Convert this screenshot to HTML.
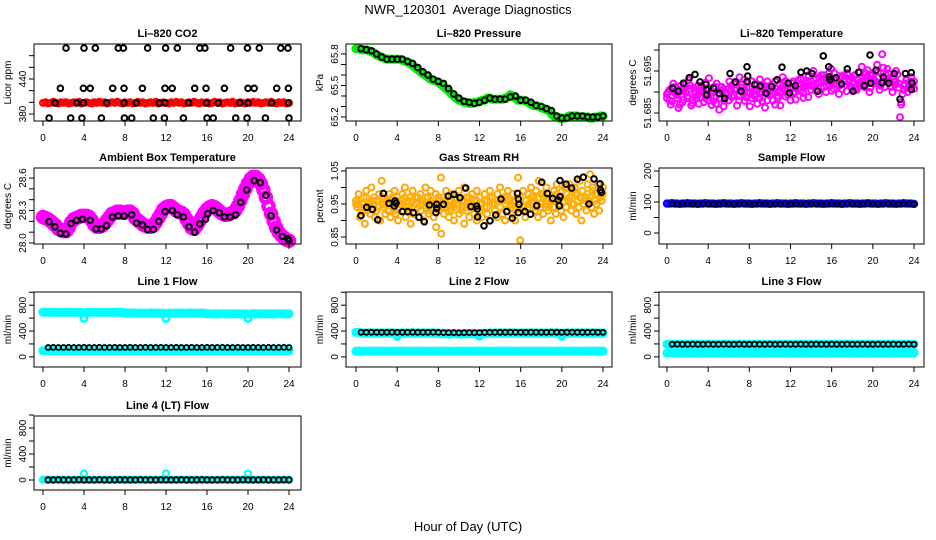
<!DOCTYPE html>
<html><head><meta charset="utf-8"><title>NWR_120301 Average Diagnostics</title>
<style>html,body{margin:0;padding:0;background:#fff}svg{display:block}text{font-family:"Liberation Sans",Arial,sans-serif}</style>
</head><body>
<svg id="chart" width="936" height="540" viewBox="0 0 936 540" xmlns="http://www.w3.org/2000/svg">
<text x="468" y="14" text-anchor="middle" font-size="13">NWR_120301&#160; Average Diagnostics</text>
<text x="468" y="531" text-anchor="middle" font-size="13">Hour of Day (UTC)</text>
</svg>
<script>
const hourTicks=[0,4,8,12,16,20,24];
// Li-820 CO2
const co2Red=[399,400,398,399,401,399,398,400,399,400,398,399,400,399,401,398,399,400,399,398,400,399,401,399,400,398,399,400,399,401,399,398,400,399,400,398,399,401,399,400,398,399,400,399,401,398,399,400,399,398,400,399,401,399,400,398,399,400,399,401,399,398,400,399,400,398,399,401,399,400,398,399,400,399,401,398,399,400,399,398,400,399,401,399,400,398,399,400,399,401,399,398,400,399,400,398,399];
const co2BlackHours=[2.24,4.0,5.1,7.35,7.84,10.2,11.96,13.1,15.3,15.8,18.3,19.95,21.1,23.2,23.9,1.7,3.94,4.6,6.8,7.9,9.7,11.9,12.6,14.8,15.9,17.7,20.0,20.6,22.8,23.94,1.17,3.3,3.94,6.2,7.9,9.1,11.35,11.9,14.2,15.96,17.1,19.2,20.0,22.3,23.94,0.6,2.7,3.8,5.7,7.94,8.65,10.76,11.84,13.7,16.0,16.6,18.8,19.9,21.7,24.0];
const co2BlackVals=[493,493,493,493,493,493,493,493,493,493,493,493,493,493,493,424,424,424,424,424,424,424,424,424,424,424,424,424,424,424,399,399,399,399,399,399,399,399,399,399,399,399,399,399,399,373,373,373,373,373,373,373,373,373,373,373,373,373,373,373];
// Li-820 Pressure
const presGreen=[65.85,65.85,65.84,65.84,65.84,65.83,65.82,65.81,65.79,65.78,65.77,65.76,65.75,65.75,65.75,65.75,65.75,65.75,65.74,65.73,65.72,65.71,65.69,65.67,65.65,65.63,65.61,65.60,65.58,65.56,65.55,65.54,65.53,65.51,65.49,65.47,65.45,65.42,65.40,65.38,65.36,65.35,65.34,65.34,65.33,65.33,65.34,65.34,65.35,65.36,65.36,65.38,65.38,65.37,65.37,65.37,65.37,65.37,65.38,65.39,65.41,65.40,65.38,65.36,65.36,65.36,65.35,65.34,65.32,65.31,65.31,65.30,65.29,65.28,65.27,65.26,65.23,65.21,65.20,65.19,65.19,65.19,65.20,65.21,65.21,65.21,65.21,65.20,65.20,65.20,65.20,65.19,65.19,65.20,65.20,65.21,65.21];
const presBlack=[65.85,65.84,65.83,65.80,65.77,65.75,65.75,65.75,65.75,65.73,65.71,65.67,65.63,65.60,65.56,65.54,65.52,65.47,65.42,65.38,65.35,65.34,65.33,65.34,65.36,65.38,65.37,65.37,65.37,65.39,65.40,65.36,65.36,65.34,65.31,65.30,65.28,65.26,65.21,65.19,65.19,65.21,65.21,65.21,65.20,65.20,65.20,65.21];
// Li-820 Temperature
const tempA=[51.6885,51.6905,51.6878,51.6912,51.6893,51.6870,51.6902,51.6918,51.6885,51.6908,51.6873,51.6896,51.6915,51.6888,51.6905,51.6922,51.6880,51.6899,51.6911,51.6872,51.6895,51.6903,51.6866,51.6890,51.6908,51.6915,51.6893,51.6921,51.6880,51.6910,51.6930,51.6898,51.6912,51.6885,51.6902,51.6919,51.6896,51.6878,51.6905,51.6925,51.6892,51.6911,51.6870,51.6900,51.6918,51.6935,51.6889,51.6906,51.6880,51.6897,51.6915,51.6928,51.6903,51.6886,51.6920,51.6937,51.6905,51.6918,51.6931,51.6895,51.6940,51.6912,51.6925,51.6945,51.6903,51.6930,51.6918,51.6938,51.6907,51.6926,51.6942,51.6915,51.6933,51.6904,51.6929,51.6947,51.6918,51.6935,51.6952,51.6910,51.6940,51.6925,51.6948,51.6915,51.6958,51.6930,51.6945,51.6912,51.6938,51.6950,51.6920,51.6876,51.6905,51.6928,51.6915,51.6935,51.6908];
const tempB=[51.6900,51.6870,51.6920,51.6895,51.6862,51.6915,51.6882,51.6899,51.6928,51.6868,51.6910,51.6884,51.6872,51.6915,51.6876,51.6895,51.6933,51.6869,51.6887,51.6920,51.6858,51.6912,51.6880,51.6897,51.6925,51.6888,51.6906,51.6868,51.6935,51.6899,51.6879,51.6923,51.6866,51.6910,51.6890,51.6872,51.6930,51.6912,51.6863,51.6896,51.6915,51.6880,51.6925,51.6891,51.6868,51.6909,51.6926,51.6893,51.6912,51.6920,51.6882,51.6908,51.6932,51.6898,51.6915,51.6888,51.6926,51.6950,51.6903,51.6922,51.6910,51.6932,51.6900,51.6918,51.6955,51.6908,51.6928,51.6895,51.6920,51.6940,51.6902,51.6925,51.6912,51.6938,51.6905,51.6922,51.6960,51.6912,51.6932,51.6900,51.6945,51.6928,51.6965,51.6905,51.6990,51.6912,51.6955,51.6925,51.6900,51.6918,51.6942,51.6840,51.6895,51.6920,51.6900,51.6925,51.6915];
const tempC=[51.6895,51.6880,51.6910,51.6900,51.6885,51.6905,51.6875,51.6908,51.6890,51.6915,51.6880,51.6902,51.6893,51.6900,51.6910,51.6885,51.6905,51.6890,51.6878,51.6912,51.6895,51.6884,51.6908,51.6898,51.6880,51.6903,51.6920,51.6905,51.6890,51.6918,51.6900,51.6887,51.6910,51.6925,51.6895,51.6905,51.6885,51.6900,51.6915,51.6880,51.6905,51.6895,51.6910,51.6885,51.6900,51.6915,51.6905,51.6920,51.6910,51.6925,51.6900,51.6915,51.6930,51.6910,51.6925,51.6940,51.6915,51.6930,51.6920,51.6935,51.6925,51.6940,51.6915,51.6935,51.6925,51.6945,51.6930,51.6915,51.6935,51.6925,51.6945,51.6930,51.6920,51.6940,51.6930,51.6915,51.6935,51.6945,51.6925,51.6940,51.6930,51.6920,51.6935,51.6945,51.6925,51.6940,51.6930,51.6915,51.6930,51.6925,51.6910,51.6870,51.6915,51.6930,51.6920,51.6910,51.6925];
const tempBlackHours=[0.55,1.1,1.59,2.17,2.72,3.21,3.79,3.85,3.85,4.53,5.08,5.6,6.12,6.64,7.19,7.77,7.77,7.84,8.52,9.07,9.62,10.17,10.69,11.17,11.79,11.89,12.47,13.02,13.57,14.09,14.64,15.19,15.71,15.77,15.84,16.42,16.97,17.52,18.07,18.62,19.17,19.72,19.79,20.31,20.89,21.02,21.54,22.09,22.64,23.16,23.74,23.74,23.81];
const tempBlackVals=[51.6909,51.6902,51.6921,51.6934,51.6942,51.6924,51.6918,51.6905,51.6893,51.6909,51.6897,51.6885,51.6944,51.6924,51.6902,51.6960,51.6925,51.6938,51.6918,51.6914,51.6897,51.6913,51.6929,51.6959,51.6921,51.6898,51.6915,51.6947,51.6950,51.6944,51.6902,51.6986,51.6960,51.6936,51.6929,51.6934,51.6919,51.6955,51.6902,51.6947,51.6915,51.6988,51.6921,51.6952,51.6922,51.6935,51.6921,51.6944,51.6883,51.6944,51.6946,51.6906,51.6922];
// Ambient Box Temperature
const ambMagenta=[28.24,28.23,28.22,28.20,28.18,28.16,28.13,28.12,28.11,28.11,28.14,28.19,28.22,28.23,28.24,28.25,28.25,28.25,28.24,28.21,28.17,28.15,28.15,28.16,28.18,28.21,28.24,28.27,28.28,28.29,28.29,28.28,28.28,28.29,28.29,28.27,28.23,28.21,28.19,28.17,28.16,28.15,28.15,28.16,28.19,28.23,28.27,28.31,28.33,28.34,28.34,28.32,28.30,28.29,28.28,28.26,28.22,28.18,28.14,28.13,28.16,28.20,28.24,28.28,28.31,28.33,28.34,28.33,28.31,28.29,28.27,28.26,28.26,28.27,28.28,28.30,28.34,28.39,28.45,28.50,28.55,28.59,28.61,28.61,28.59,28.55,28.49,28.42,28.34,28.27,28.20,28.14,28.10,28.07,28.05,28.03,28.02];
const ambBlackHours=[0.6,1.17,1.7,2.24,2.73,3.28,3.85,4.6,5.17,5.7,6.2,6.77,7.35,7.9,8.65,9.13,9.7,10.2,10.76,11.3,11.9,12.6,13.1,13.7,14.25,14.8,15.3,15.86,16.06,16.6,17.2,17.7,18.25,18.8,19.3,19.87,20.6,21.2,21.75,22.25,22.8,23.35,23.9,24.0];
const ambBlackVals=[28.197,28.15,28.09,28.083,28.18,28.21,28.22,28.21,28.13,28.13,28.16,28.24,28.25,28.25,28.26,28.185,28.166,28.126,28.126,28.2,28.29,28.30,28.26,28.24,28.15,28.1,28.175,28.22,28.27,28.30,28.28,28.24,28.24,28.26,28.376,28.49,28.575,28.557,28.44,28.25,28.12,28.06,28.04,28.02];
// Gas Stream RH
const rhA=[0.96,0.98,0.94,0.97,0.99,0.95,1.00,0.97,0.96,0.98,1.02,0.97,0.95,0.98,0.96,0.99,0.97,0.95,0.98,1.00,0.96,0.97,0.99,0.95,0.97,0.98,0.96,1.00,0.97,0.99,0.95,0.98,0.96,1.03,0.97,0.99,0.96,0.98,0.95,0.97,0.99,0.96,1.00,0.97,0.95,0.98,0.96,0.99,0.97,0.95,0.98,0.96,0.99,0.97,0.95,0.98,1.00,0.96,0.97,0.99,0.95,0.98,0.96,1.03,0.97,0.99,0.96,0.98,1.00,0.97,0.99,1.02,0.98,0.97,1.00,0.98,0.96,0.99,1.01,0.97,0.99,1.00,0.98,1.01,0.99,1.00,0.98,1.02,0.99,0.97,1.01,1.04,1.00,0.98,1.01,0.99,1.00];
const rhB=[0.94,0.91,0.95,0.89,0.93,0.92,0.96,0.91,0.94,0.90,0.95,0.92,0.93,0.91,0.94,0.92,0.90,0.95,0.93,0.91,0.94,0.89,0.92,0.95,0.91,0.93,0.90,0.94,0.92,0.95,0.91,0.88,0.93,0.86,0.92,0.94,0.91,0.93,0.90,0.95,0.92,0.94,0.89,0.93,0.91,0.94,0.92,0.90,0.93,0.91,0.94,0.92,0.90,0.95,0.93,0.91,0.94,0.92,0.90,0.93,0.95,0.92,0.90,0.94,0.84,0.93,0.91,0.94,0.92,0.95,0.93,0.91,0.94,0.92,0.95,0.93,0.90,0.94,0.92,0.95,0.93,0.91,0.94,0.96,0.93,0.95,0.92,0.94,0.90,0.95,0.93,0.96,0.94,0.92,0.95,0.93,0.96];
const rhC=[0.95,0.96,0.93,0.95,0.97,0.94,0.96,0.95,0.93,0.96,0.97,0.94,0.96,0.95,0.97,0.93,0.96,0.94,0.96,0.97,0.95,0.93,0.96,0.97,0.94,0.96,0.95,0.97,0.93,0.96,0.94,0.95,0.97,0.94,0.96,0.95,0.93,0.96,0.94,0.97,0.95,0.93,0.96,0.94,0.97,0.95,0.94,0.96,0.95,0.93,0.96,0.94,0.97,0.95,0.93,0.96,0.94,0.97,0.95,0.96,0.94,0.96,0.93,0.95,0.97,0.94,0.96,0.95,0.97,0.96,0.94,0.97,0.95,0.98,0.96,0.94,0.97,0.96,0.98,0.95,0.97,0.96,0.98,0.97,0.95,0.98,0.96,0.97,0.99,0.96,0.98,0.97,0.99,0.96,0.98,0.97,0.98];
const rhBlackHours=[0.49,1.04,1.59,2.11,2.66,3.21,3.72,3.79,3.89,4.5,5.02,5.57,6.12,6.64,7.13,7.84,7.84,7.77,8.49,8.97,9.52,10.11,10.66,11.17,11.73,11.79,11.82,12.44,13.02,13.57,14.09,14.64,15.19,15.68,15.77,15.84,15.77,16.42,16.97,17.56,18.04,18.59,19.11,19.66,19.76,19.82,19.82,20.41,20.96,21.51,22.09,22.64,23.13,23.71,23.77,23.84];
const rhBlackVals=[0.915,0.940,0.934,0.902,0.982,0.952,0.944,0.959,0.952,0.927,0.927,0.924,0.910,0.896,0.947,0.949,0.937,0.924,0.949,0.974,0.979,0.969,0.998,0.942,0.944,0.935,0.911,0.884,0.899,0.917,0.965,0.927,0.907,0.982,0.965,0.949,0.924,0.927,0.919,0.945,1.016,0.982,0.967,0.962,0.944,0.972,1.021,1.010,0.998,1.025,1.031,0.950,1.026,1.011,0.992,0.985];
// Sample Flow
const sampleBlue=[95,95,96,95,95,94,95,95,96,95,95,95,94,95,95,96,95,95,95,94,95,95,96,95,95,95,94,95,95,96,95,95,95,94,95,95,96,95,95,95,94,95,95,96,95,95,95,94,95,95,96,95,95,95,94,95,95,96,95,95,95,94,95,95,96,95,95,95,94,95,95,96,95,95,95,94,95,95,96,95,95,95,94,95,95,96,95,95,95,94,95,95,96,95,95,95,94];
const sampleBlack=[94,94,95,94,94,94,95,94,94,94,95,94,94,94,95,94,94,94,95,94,94,94,95,94,94,94,95,94,94,94,95,94,94,94,95,94,94,94,95,94,94,94,95,94,94,94,95,93];
// Line 1 Flow
const line1CyanHigh=[690,690,688,690,691,690,689,690,690,688,690,691,690,689,690,688,595,688,690,689,690,691,688,690,689,690,688,690,691,689,690,688,680,678,676,680,677,675,679,676,678,675,680,677,676,679,675,678,595,676,678,675,679,677,676,678,675,680,677,676,679,675,678,676,668,666,665,667,664,666,668,665,667,664,666,668,665,667,664,666,595,666,668,665,667,664,666,668,665,667,664,666,668,665,667,664,666];
const line1CyanLow=[95,96,95,94,95,96,95,95,94,95,96,95,95,94,95,96,95,95,94,95,96,95,95,94,95,96,95,95,94,95,96,95,95,94,95,96,95,95,94,95,96,95,95,94,95,96,95,95,94,95,96,95,95,94,95,96,95,95,94,95,96,95,95,94,95,96,95,95,94,95,96,95,95,94,95,96,95,95,94,95,96,95,95,94,95,96,95,95,94,95,96,95,95,94,95,96,95];
const line1Black=[145,146,145,145,146,145,145,146,145,145,146,145,145,146,145,145,146,145,145,146,145,145,146,145,145,146,145,145,146,145,145,146,145,145,146,145,145,146,145,145,146,145,145,146,145,145,146,145];
// Line 2 Flow
const line2CyanHigh=[380,378,372,370,368,372,366,370,369,372,368,371,367,372,370,368,320,368,372,366,370,369,372,368,371,367,372,370,368,372,366,370,369,360,355,362,350,358,362,355,360,354,358,362,356,360,355,358,320,362,358,366,370,365,372,368,371,367,372,370,368,372,366,370,369,372,368,371,367,372,370,368,372,366,370,369,372,368,371,367,320,368,372,366,370,369,372,368,371,367,372,370,368,372,366,370,369];
const line2CyanLow=[88,89,88,87,88,89,88,88,87,88,89,88,88,87,88,89,88,88,87,88,89,88,88,87,88,89,88,88,87,88,89,88,88,87,88,89,88,88,87,88,89,88,88,87,88,89,88,88,87,88,89,88,88,87,88,89,88,88,87,88,89,88,88,87,88,89,88,88,87,88,89,88,88,87,88,89,88,88,87,88,89,88,88,87,88,89,88,88,87,88,89,88,88,87,88,89,88];
const line2Black=[380,380,381,380,380,380,381,380,380,380,381,380,380,380,381,378,376,375,374,373,374,375,374,376,377,378,379,380,380,381,380,380,380,381,380,380,380,381,380,380,380,381,380,380,380,381,380,380];
// Line 3 Flow
const line3CyanHigh=[195,194,193,195,194,193,195,194,193,195,194,193,195,194,193,195,194,193,195,194,193,195,194,193,195,194,193,195,194,193,195,194,193,195,194,193,195,194,193,195,194,193,195,194,193,195,194,193,195,194,193,195,194,193,195,194,193,195,194,193,195,194,193,195,194,193,195,194,193,195,194,193,195,194,193,195,194,193,195,194,193,195,194,193,195,194,193,195,194,193,195,194,193,195,194,193,195];
const line3CyanLow=[60,61,60,59,60,61,60,60,59,60,61,60,60,59,60,61,60,60,59,60,61,60,60,59,60,61,60,60,59,60,61,60,60,59,60,61,60,60,59,60,61,60,60,59,60,61,60,60,59,60,61,60,60,59,60,61,60,60,59,60,61,60,60,59,60,61,60,60,59,60,61,60,60,59,60,61,60,60,59,60,61,60,60,59,60,61,60,60,59,60,61,60,60,59,60,61,60];
const line3Black=[195,196,195,195,196,195,195,196,195,195,196,195,195,196,195,195,196,195,195,196,195,195,196,195,195,196,195,195,196,195,195,196,195,195,196,195,195,196,195,195,196,195,195,196,195,195,196,195];
// Line 4 (LT) Flow
const line4Cyan=[5,4,5,5,4,5,5,4,5,5,4,5,5,4,5,5,100,5,5,4,5,5,4,5,5,4,5,5,4,5,5,4,5,5,4,5,5,4,5,5,4,5,5,4,5,5,4,5,100,4,5,5,4,5,5,4,5,5,4,5,5,4,5,5,4,5,5,4,5,5,4,5,5,4,5,5,4,5,5,4,100,5,5,4,5,5,4,5,5,4,5,5,4,5,5,4,5];
const line4Black=[2,2,3,2,2,2,3,2,2,2,3,2,2,2,3,2,2,2,3,2,2,2,3,2,2,2,3,2,2,2,3,2,2,2,3,2,2,2,3,2,2,2,3,2,2,2,3,2];

const NS='http://www.w3.org/2000/svg';
const svg=document.getElementById('chart');
function mk(tag,attrs,parent){const e=document.createElementNS(NS,tag);for(const k in attrs)e.setAttribute(k,attrs[k]);(parent||svg).appendChild(e);return e;}
function denseHours(arr){return arr.map((v,i)=>i*24/(arr.length-1));}
function shiftedHours(arr){return arr.map((v,i)=>(i+0.5)*24/arr.length);}
function halfHours(arr){return arr.map((v,i)=>(i+1)*24/arr.length);}

const cols=[{l:34,r:301,x0:43,x24:289},{l:346,r:612,x0:356,x24:603},{l:659,r:924,x0:667,x24:914}];
const rows=[{t:44,b:121},{t:168,b:244},{t:292,b:367},{t:416,b:490}];
const BK={col:'#000',rad:2.8,sw:2};

const panels=[
 {key:'co2',title:'Li\u2013820 CO2',c:0,r:0,ylab:'Licor ppm',ymin:368,ymax:500,ticks:[380,400,420,440,460,480],labels:[380,440],
  layers:[{h:denseHours(co2Red),v:co2Red,col:'#ff0000',rad:2.8,sw:2.4},{h:co2BlackHours,v:co2BlackVals,...BK}]},
 {key:'pressure',title:'Li\u2013820 Pressure',c:1,r:0,ylab:'kPa',ymin:65.162,ymax:65.895,ticks:[65.2,65.3,65.4,65.5,65.6,65.7,65.8],labels:['65.2','65.5','65.8'],
  layers:[{h:denseHours(presGreen),v:presGreen,col:'#00ee00',rad:3.2,sw:2.8},{h:halfHours(presBlack),v:presBlack,...BK}]},
 {key:'temperature',title:'Li\u2013820 Temperature',c:2,r:0,ylab:'degrees C',ymin:51.6831,ymax:51.70143,ticks:[51.685,51.69,51.695,51.7],labels:['51.685','51.695'],
  layers:[{h:denseHours(tempA),v:tempA,col:'#ff00ff',rad:3,sw:2},{h:shiftedHours(tempB),v:tempB,col:'#ff00ff',rad:3,sw:2},{h:denseHours(tempC),v:tempC,col:'#ff00ff',rad:3,sw:2},{h:tempBlackHours,v:tempBlackVals,...BK}]},
 {key:'ambient',title:'Ambient Box Temperature',c:0,r:1,ylab:'degrees C',ymin:27.9908,ymax:28.6925,ticks:[28.0,28.1,28.2,28.3,28.4,28.5,28.6],labels:['28.0','28.3','28.6'],
  layers:[{h:denseHours(ambMagenta),v:ambMagenta,col:'#ff00ff',rad:5,sw:4.5},{h:ambBlackHours,v:ambBlackVals,...BK}]},
 {key:'rh',title:'Gas Stream RH',c:1,r:1,ylab:'percent',ymin:0.8288,ymax:1.059,ticks:[0.85,0.9,0.95,1.0,1.05],labels:['0.85','0.95','1.05'],
  layers:[{h:denseHours(rhA),v:rhA,col:'#ffa500',rad:3,sw:2},{h:shiftedHours(rhB),v:rhB,col:'#ffa500',rad:3,sw:2},{h:denseHours(rhC),v:rhC,col:'#ffb000',rad:3,sw:2},{h:rhBlackHours,v:rhBlackVals,...BK}]},
 {key:'sample-flow',title:'Sample Flow',c:2,r:1,ylab:'ml/min',ymin:-35.5,ymax:209.7,ticks:[0,50,100,150,200],labels:[0,100,200],
  layers:[{h:denseHours(sampleBlue),v:sampleBlue,col:'#0000ff',rad:3,sw:2.4},{h:halfHours(sampleBlack),v:sampleBlack,col:'#000',rad:2.4,sw:1.8}]},
 {key:'line1-flow',title:'Line 1 Flow',c:0,r:2,ylab:'ml/min',ymin:-157,ymax:1004,ticks:[0,200,400,600,800,1000],labels:[0,400,800],
  layers:[{h:denseHours(line1CyanHigh),v:line1CyanHigh,col:'#00ffff',rad:3.2,sw:2.8},{h:denseHours(line1CyanLow),v:line1CyanLow,col:'#00ffff',rad:3.2,sw:2.8},{h:halfHours(line1Black),v:line1Black,col:'#000',rad:2.5,sw:1.8}]},
 {key:'line2-flow',title:'Line 2 Flow',c:1,r:2,ylab:'ml/min',ymin:-157,ymax:1004,ticks:[0,200,400,600,800,1000],labels:[0,400,800],
  layers:[{h:denseHours(line2CyanHigh),v:line2CyanHigh,col:'#00ffff',rad:3.2,sw:2.8},{h:denseHours(line2CyanLow),v:line2CyanLow,col:'#00ffff',rad:3.2,sw:2.8},{h:halfHours(line2Black),v:line2Black,col:'#000',rad:2.5,sw:1.8}]},
 {key:'line3-flow',title:'Line 3 Flow',c:2,r:2,ylab:'ml/min',ymin:-157,ymax:1004,ticks:[0,200,400,600,800,1000],labels:[0,400,800],
  layers:[{h:denseHours(line3CyanHigh),v:line3CyanHigh,col:'#00ffff',rad:3.2,sw:2.8},{h:denseHours(line3CyanLow),v:line3CyanLow,col:'#00ffff',rad:3.2,sw:2.8},{h:halfHours(line3Black),v:line3Black,col:'#000',rad:2.5,sw:1.8}]},
 {key:'line4-flow',title:'Line 4 (LT) Flow',c:0,r:3,ylab:'ml/min',ymin:-154,ymax:985,ticks:[0,200,400,600,800,1000],labels:[0,400,800],
  layers:[{h:denseHours(line4Cyan),v:line4Cyan,col:'#00ffff',rad:3,sw:2.2},{h:halfHours(line4Black),v:line4Black,col:'#000',rad:2.7,sw:2}]}
];

panels.forEach(p=>{
  const C=cols[p.c],R=rows[p.r];
  const xs=h=>C.x0+(h/24)*(C.x24-C.x0);
  const ys=v=>R.b-(v-p.ymin)/(p.ymax-p.ymin)*(R.b-R.t);
  const g=mk('g',{});
  
  
  const title=mk('text',{x:(C.l+C.r)/2,y:R.t-7,'text-anchor':'middle','font-size':'11','font-weight':'bold'},g);
  title.textContent=p.title;
  
  
  const marks=mk('g',{},g);
  
  
  p.layers.forEach(L=>{
    L.v.forEach((v,i)=>{
      const cx=xs(L.h[i]),cy=ys(v);
      if(cy<R.t-2||cy>R.b+2)return;
      const c=mk('circle',{cx:cx.toFixed(1),cy:cy.toFixed(1),r:L.rad,fill:'none',stroke:L.col,'stroke-width':L.sw},marks);
      
      
    });
  });
  const box=mk('rect',{x:C.l,y:R.t,width:C.r-C.l,height:R.b-R.t,fill:'none',stroke:'#000','stroke-width':1},g);
  
  
  const xa=mk('g',{},g);
  
  
  mk('line',{x1:xs(0),x2:xs(24),y1:R.b,y2:R.b,stroke:'#000'},xa);
  hourTicks.forEach(h=>{
    mk('line',{x1:xs(h),x2:xs(h),y1:R.b,y2:R.b+5,stroke:'#000'},xa);
    const t=mk('text',{x:xs(h),y:R.b+20,'text-anchor':'middle','font-size':'10'},xa);
    t.textContent=h;
    
    
  });
  const ya=mk('g',{},g);
  
  
  p.ticks.forEach(v=>{mk('line',{x1:C.l-5,x2:C.l,y1:ys(v),y2:ys(v),stroke:'#000'},ya);});
  p.labels.forEach(v=>{
    const y=ys(Number(v));
    const t=mk('text',{x:C.l-8,y:y,'text-anchor':'middle','font-size':'10',transform:'rotate(-90 '+(C.l-8)+' '+y+')'},ya);
    t.textContent=String(v);
    
    
  });
  const yl=(R.t+R.b)/2;
  const yt=mk('text',{x:C.l-23,y:yl,'text-anchor':'middle','font-size':'10',transform:'rotate(-90 '+(C.l-23)+' '+yl+')'},ya);
  yt.textContent=p.ylab;
  
  
});
</script>
</body></html>
